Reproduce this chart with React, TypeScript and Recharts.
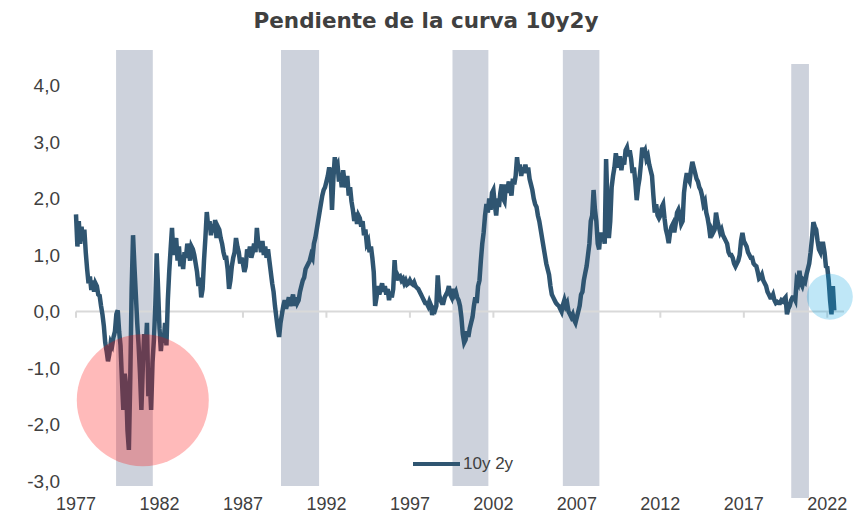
import React from 'react';
import {
  LineChart, Line, XAxis, YAxis, ReferenceArea, ReferenceLine, ReferenceDot, Legend,
} from 'recharts';

// Monthly 10y-2y spread readings, starting January 1977
const spread1977to1981 = [
  1.72, 1.15, 1.60, 1.20, 1.50, 1.25, 1.45, 1.05, 0.75, 0.50, 0.62, 0.38,
  0.55, 0.35, 0.50, 0.45, 0.30, 0.28, 0.10, -0.05, -0.25, -0.55, -0.70, -0.88,
  -0.75, -0.55, -0.60, -0.45, -0.35, -0.05, 0.02, -0.35, -0.60, -1.20, -1.74, -1.10,
  -1.30, -2.10, -2.45, -1.20, 0.40, 1.35, 0.80, 0.30, -0.20, -0.60, -1.10, -1.74,
  -1.00, -0.40, -0.70, -0.20, -1.50, -1.20, -1.74, -0.90, -0.50, 0.10, 1.03, 0.40,
];
const spread1982to1986 = [
  -0.30, -0.70, -0.40, -0.55, -0.20, -0.60, 0.20, 0.70, 1.10, 1.48, 1.00, 1.20,
  1.30, 0.90, 1.15, 0.80, 1.00, 0.75, 1.05, 0.95, 1.20, 1.10, 0.90, 1.15,
  1.10, 1.00, 0.85, 0.70, 0.45, 0.60, 0.25, 0.40, 0.90, 1.30, 1.76, 1.50,
  1.60, 1.35, 1.55, 1.40, 1.62, 1.30, 1.50, 1.45, 1.30, 1.20, 1.05, 0.95,
  0.95, 0.75, 0.40, 0.55, 0.80, 0.95, 1.05, 1.30, 1.15, 1.05, 0.85, 0.95,
];
const spread1987to1991 = [
  0.85, 0.70, 0.80, 1.10, 1.00, 1.15, 0.95, 1.05, 1.20, 1.05, 1.48, 1.20,
  1.20, 1.05, 1.25, 1.00, 1.15, 0.95, 1.10, 0.90, 0.70, 0.50, 0.35, 0.10,
  -0.10, -0.30, -0.45, -0.20, -0.05, 0.10, 0.20, 0.05, 0.15, 0.25, 0.10, 0.20,
  0.30, 0.10, 0.25, 0.15, 0.20, 0.35, 0.45, 0.55, 0.60, 0.75, 0.80, 0.85,
  0.90, 1.00, 0.95, 1.20, 1.30, 1.45, 1.60, 1.75, 1.90, 2.05, 2.15, 2.20,
];
const spread1992to1996 = [
  2.30, 2.40, 2.55, 2.45, 1.80, 2.35, 2.73, 2.55, 2.60, 2.30, 2.45, 2.20,
  2.50, 2.30, 2.20, 2.40, 2.05, 2.20, 1.95, 1.80, 1.60, 1.75, 1.55, 1.70,
  1.65, 1.50, 1.60, 1.35, 1.45, 1.20, 1.25, 1.05, 1.15, 0.95, 0.70, 0.10,
  0.25, 0.45, 0.30, 0.40, 0.50, 0.35, 0.45, 0.30, 0.40, 0.20, 0.35, 0.25,
  0.40, 0.91, 0.55, 0.65, 0.60, 0.62, 0.55, 0.58, 0.50, 0.55, 0.48, 0.50,
];
const spread1997to2001 = [
  0.55, 0.50, 0.48, 0.52, 0.45, 0.42, 0.40, 0.35, 0.30, 0.25, 0.20, 0.15,
  0.15, 0.10, 0.18, 0.12, -0.06, 0.05, 0.02, 0.10, 0.64, 0.30, 0.20, 0.15,
  0.15, 0.25, 0.30, 0.35, 0.45, 0.30, 0.25, 0.40, 0.30, 0.35, 0.25, 0.20,
  0.10, -0.10, -0.40, -0.55, -0.50, -0.35, -0.45, -0.30, -0.20, -0.10, 0.10, 0.25,
  0.15, 0.45, 0.55, 0.90, 1.20, 1.40, 1.70, 1.90, 1.75, 2.00, 1.80, 2.10,
];
const spread2002to2006 = [
  2.15, 1.90, 1.70, 2.00, 1.85, 2.10, 2.25, 2.00, 1.95, 2.25, 2.10, 2.30,
  2.20, 2.05, 2.35, 2.25, 2.40, 2.73, 2.50, 2.60, 2.40, 2.55, 2.45, 2.60,
  2.45, 2.55, 2.35, 2.25, 2.15, 2.00, 1.90, 1.85, 1.70, 1.60, 1.45, 1.30,
  1.15, 1.00, 0.85, 0.75, 0.65, 0.45, 0.30, 0.25, 0.20, 0.15, 0.12, 0.10,
  0.05, 0.00, 0.12, 0.20, 0.10, 0.15, 0.00, -0.05, -0.10, -0.05, -0.15, -0.20,
];
const spread2007to2011 = [
  -0.10, 0.00, 0.10, 0.30, 0.35, 0.55, 0.68, 0.80, 1.00, 1.20, 1.60, 1.70,
  2.15, 1.80, 1.60, 1.20, 1.10, 1.40, 1.25, 1.35, 1.20, 2.70, 1.90, 1.30,
  1.60, 2.20, 2.40, 2.55, 2.80, 2.65, 2.55, 2.75, 2.50, 2.70, 2.60, 2.85,
  2.90, 2.75, 2.85, 2.70, 2.45, 2.55, 2.30, 1.97, 2.20, 2.35, 2.60, 2.90,
  2.80, 2.85, 2.70, 2.75, 2.60, 2.50, 2.40, 2.05, 1.75, 1.90, 1.70, 1.65,
];
const spread2012to2016 = [
  1.70, 1.85, 1.90, 1.65, 1.45, 1.35, 1.21, 1.40, 1.50, 1.55, 1.40, 1.55,
  1.75, 1.80, 1.70, 1.55, 1.60, 2.10, 2.30, 2.45, 2.35, 2.30, 2.50, 2.65,
  2.55, 2.45, 2.35, 2.30, 2.20, 2.15, 2.05, 1.90, 1.95, 1.75, 1.65, 1.50,
  1.30, 1.45, 1.40, 1.45, 1.75, 1.60, 1.50, 1.40, 1.45, 1.35, 1.30, 1.25,
  1.20, 1.05, 1.00, 1.00, 0.95, 0.85, 0.80, 0.85, 0.90, 1.00, 1.25, 1.39,
];
const spread2017to2022 = [
  1.25, 1.20, 1.15, 1.05, 1.00, 0.95, 0.95, 0.85, 0.82, 0.80, 0.70, 0.58,
  0.60, 0.65, 0.55, 0.50, 0.45, 0.35, 0.30, 0.25, 0.25, 0.30, 0.20, 0.15,
  0.17, 0.15, 0.15, 0.20, 0.18, 0.22, 0.25, -0.05, 0.05, 0.10, 0.20, 0.25,
  0.25, 0.20, 0.55, 0.50, 0.72, 0.50, 0.45, 0.55, 0.52, 0.65, 0.75, 0.85,
  1.05, 1.30, 1.58, 1.50, 1.45, 1.25, 1.10, 1.05, 1.20, 1.20, 1.05, 0.80,
  0.78, 0.55, 0.20, -0.05, 0.45, 0.02,
];

const startYear = 1977;
const xTicks = [1977, 1982, 1987, 1992, 1997, 2002, 2007, 2012, 2017, 2022];
const yTicks = [-3, -2, -1, 0, 1, 2, 3, 4];

// Shaded recession periods (as drawn in the source chart, in decimal years)
const recessions = [
  { from: 1979.4, to: 1981.6, top: 4.63, bottom: -3.09 },
  { from: 1989.28, to: 1991.56, top: 4.63, bottom: -3.09 },
  { from: 1999.55, to: 2001.7, top: 4.63, bottom: -3.09 },
  { from: 2006.16, to: 2008.35, top: 4.63, bottom: -3.09 },
  { from: 2019.84, to: 2020.9, top: 4.38, bottom: -3.3 },
];

const seriesName = '10y 2y';
const allValues = [
  ...spread1977to1981, ...spread1982to1986, ...spread1987to1991,
  ...spread1992to1996, ...spread1997to2001, ...spread2002to2006,
  ...spread2007to2011, ...spread2012to2016, ...spread2017to2022,
];
const data = allValues.map((v, i) => ({ t: startYear + i / 12, v }));

const LINE_COLOR = '#2F5571';
const TEXT_COLOR = '#404040';
const FONT = "'Liberation Sans', Arial, sans-serif";

const LegendContent = () => (
  <div style={{ display: 'flex', alignItems: 'center', fontFamily: FONT, fontSize: 17, color: TEXT_COLOR }}>
    <svg width={50} height={24}>
      <line x1={3} x2={50} y1={12} y2={12} stroke={LINE_COLOR} strokeWidth={4} />
    </svg>
    <span style={{ marginLeft: 3 }}>{seriesName}</span>
  </div>
);

export default function App() {
  return (
    <div style={{ position: 'absolute', left: 0, top: 0, width: 858, height: 515, background: '#fff' }}>
      <div
        style={{
          position: 'absolute', left: 0, top: 9, width: 852, height: 24, lineHeight: '24px',
          textAlign: 'center', fontFamily: "'DejaVu Sans', sans-serif", fontWeight: 'bold',
          fontSize: 21.5, color: TEXT_COLOR,
        }}
      >
        Pendiente de la curva 10y2y
      </div>
      <LineChart width={858} height={515} data={data} margin={{ top: 85.5, right: 14, bottom: 0, left: 16 }}>
        <XAxis
          type="number"
          dataKey="t"
          domain={[1977, 2023]}
          ticks={xTicks}
          interval={0}
          height={34}
          axisLine={false}
          tickLine={false}
          tickSize={0}
          tickMargin={16}
          tick={{ fill: TEXT_COLOR, fontSize: 18, fontFamily: FONT }}
        />
        <YAxis
          type="number"
          domain={[-3, 4]}
          ticks={yTicks}
          interval={0}
          width={60}
          axisLine={false}
          tickLine={false}
          tickSize={0}
          tickMargin={16}
          tickFormatter={(v: number) => v.toFixed(1).replace('.', ',')}
          tick={{ fill: TEXT_COLOR, fontSize: 19, fontFamily: FONT }}
        />
        <ReferenceLine y={0} stroke="#D9D9D9" strokeWidth={2} ifOverflow="visible" />
        {xTicks.map((yr) => (
          <ReferenceLine
            key={yr}
            segment={[{ x: yr, y: 0 }, { x: yr, y: -0.11 }]}
            stroke="#D9D9D9"
            strokeWidth={2}
            ifOverflow="visible"
          />
        ))}
        {recessions.map((r) => (
          <ReferenceArea
            key={r.from}
            x1={r.from}
            x2={r.to}
            y1={r.bottom}
            y2={r.top}
            fill="#CDD2DC"
            fillOpacity={1}
            stroke="none"
            ifOverflow="visible"
          />
        ))}
        <Line
          type="linear"
          dataKey="v"
          name={seriesName}
          stroke={LINE_COLOR}
          strokeWidth={4.5}
          strokeLinejoin="miter"
          dot={false}
          activeDot={false}
          isAnimationActive={false}
        />
        <ReferenceDot x={1981.0} y={-1.57} r={66} fill="#FF0000" fillOpacity={0.27} stroke="none" ifOverflow="visible" />
        <ReferenceDot x={2022.15} y={0.26} r={23} fill="#00A0E0" fillOpacity={0.25} stroke="none" ifOverflow="visible" />
        <Legend
          layout="horizontal"
          verticalAlign="middle"
          align="center"
          content={<LegendContent />}
          wrapperStyle={{ left: 410, top: 452, width: 130, height: 24 }}
        />
      </LineChart>
    </div>
  );
}
